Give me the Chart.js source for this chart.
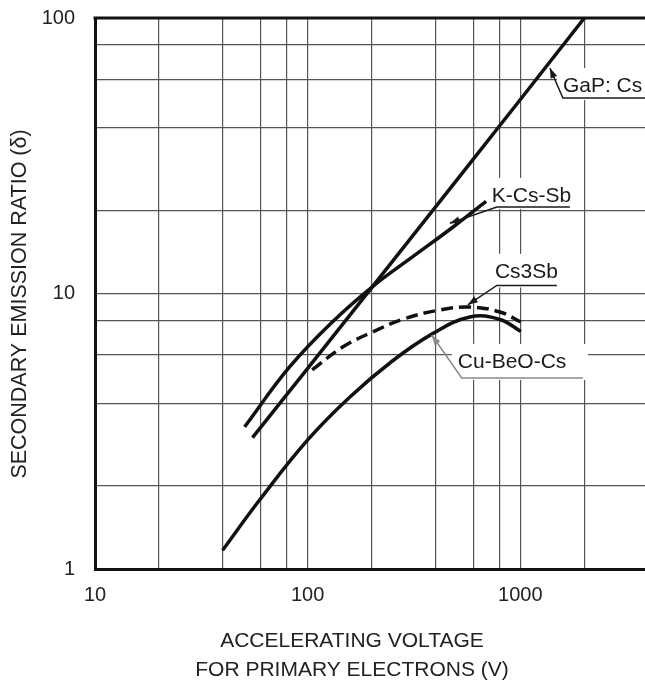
<!DOCTYPE html>
<html>
<head>
<meta charset="utf-8">
<script src="https://cdn.jsdelivr.net/npm/chart.js@4.4.1/dist/chart.umd.min.js"></script>
<style>
  html, body { margin: 0; padding: 0; background: #fff; }
  #wrap { width: 645px; height: 680px; overflow: hidden; }
</style>
</head>
<body>
<div id="wrap"><canvas id="emission" width="645" height="680"></canvas></div>
<script>
// accelerating voltage (V) and secondary emission ratio
const gapCsVolts = [55, 100, 200, 500, 1000, 2000];
const gapCsRatio = [3.0, 5.35, 10.5, 25.7, 50.6, 100];

const kCsSbVolts = [50.5, 82, 131, 202, 312, 481, 690];
const kCsSbRatio = [3.28, 5.4, 7.9, 10.6, 13.6, 17.4, 21.6];

const cs3SbVolts = [105, 146, 202, 285, 418, 579, 801, 1006];
const cs3SbRatio = [5.28, 6.39, 7.25, 8.1, 8.71, 8.93, 8.57, 7.88];

const cuBeoCsVolts = [39.8, 59.4, 100, 158, 251, 387, 579, 801, 1006];
const cuBeoCsRatio = [1.17, 1.78, 2.94, 4.21, 5.7, 7.15, 8.22, 8.05, 7.28];

// grid lines and the labelled decades
const voltGrid = [10, 20, 40, 60, 80, 100, 200, 400, 600, 800, 1000, 2000];
const voltLabels = [10, 100, 1000];
const ratioGrid = [1, 2, 4, 6, 8, 10, 20, 40, 60, 80, 100];
const ratioLabels = [1, 10, 100];

const toPoints = (xs, ys) => xs.map((v, i) => ({ x: v, y: ys[i] }));

// callouts: text left/baseline, underline (start, end, level), arrow tip -- all in data units
const callouts = [
  { text: 'GaP: Cs',   textAt: [1585, 53.9], from: 1585, to: 3855, level: 51.2, tip: [1377, 65.8], color: '#1a1a1a' },
  { text: 'K-Cs-Sb',   textAt: [734, 21.5],  from: 775,  to: 1710, level: 20.6, tip: [466, 18.0],  color: '#1a1a1a' },
  { text: 'Cs3Sb',     textAt: [759, 11.4],  from: 775,  to: 1485, level: 10.7, tip: [566, 9.1],   color: '#1a1a1a' },
  { text: 'Cu-BeO-Cs', textAt: [508, 5.37],  from: 530,  to: 1969, level: 4.94, tip: [383, 7.07],  color: '#8a8a8a' }
];

const FONT = '"Liberation Sans", Arial, Helvetica, sans-serif';
const labelFont = '21px ' + FONT;

const overlay = {
  id: 'overlay',
  beforeDatasetsDraw(chart) {
    // white boxes behind the callout texts hide the grid there
    const { ctx, scales: { x, y } } = chart;
    ctx.save();
    ctx.font = labelFont;
    ctx.fillStyle = '#fff';
    callouts.forEach(c => {
      const left = x.getPixelForValue(c.textAt[0]);
      const base = y.getPixelForValue(c.textAt[1]);
      const lineY = y.getPixelForValue(c.level);
      const right = Math.max(left + ctx.measureText(c.text).width, x.getPixelForValue(c.to));
      ctx.fillRect(left - 6, base - 24, right - left + 11, lineY - base + 26);
    });
    ctx.restore();
  },
  afterDatasetsDraw(chart) {
    const { ctx, chartArea, scales: { x, y } } = chart;
    ctx.save();
    ctx.font = labelFont;
    ctx.textBaseline = 'alphabetic';
    ctx.textAlign = 'left';
    callouts.forEach(c => {
      const x0 = x.getPixelForValue(c.from);
      const x1 = x.getPixelForValue(c.to);
      const ly = y.getPixelForValue(c.level);
      const tx = x.getPixelForValue(c.tip[0]);
      const ty = y.getPixelForValue(c.tip[1]);
      ctx.fillStyle = '#1a1a1a';
      ctx.fillText(c.text, x.getPixelForValue(c.textAt[0]), y.getPixelForValue(c.textAt[1]));
      ctx.strokeStyle = c.color;
      ctx.fillStyle = c.color;
      ctx.lineWidth = 1.5;
      ctx.beginPath();
      ctx.moveTo(x1, ly);
      ctx.lineTo(x0, ly);
      ctx.lineTo(tx, ty);
      ctx.stroke();
      // arrow head
      const ang = Math.atan2(ty - ly, tx - x0);
      const len = 10, half = 3.5;
      const bx = tx - Math.cos(ang) * len, by = ty - Math.sin(ang) * len;
      ctx.beginPath();
      ctx.moveTo(tx, ty);
      ctx.lineTo(bx + Math.sin(ang) * half, by - Math.cos(ang) * half);
      ctx.lineTo(bx - Math.sin(ang) * half, by + Math.cos(ang) * half);
      ctx.closePath();
      ctx.fill();
    });
    // top edge of the frame
    ctx.strokeStyle = '#111';
    ctx.lineWidth = 3;
    ctx.beginPath();
    ctx.moveTo(chartArea.left - 1.5, chartArea.top);
    ctx.lineTo(chartArea.right, chartArea.top);
    ctx.stroke();
    ctx.restore();
  },
  afterDraw(chart) {
    const { ctx } = chart;
    ctx.save();
    ctx.fillStyle = '#222';
    ctx.textAlign = 'center';
    ctx.textBaseline = 'alphabetic';
    ctx.font = '21.5px ' + FONT;
    ctx.translate(26, 304);
    ctx.rotate(-Math.PI / 2);
    ctx.fillText('SECONDARY EMISSION RATIO (\u03B4)', 0, 0);
    ctx.restore();

    ctx.save();
    ctx.fillStyle = '#222';
    ctx.textAlign = 'center';
    ctx.textBaseline = 'alphabetic';
    ctx.font = '21px ' + FONT;
    ctx.fillText('ACCELERATING VOLTAGE', 352, 647);
    ctx.fillText('FOR PRIMARY ELECTRONS (V)', 352, 676);
    ctx.restore();
  }
};

const curve = (label, pts, extra) => Object.assign({
  label: label,
  data: pts,
  borderColor: '#111',
  borderWidth: 3.5,
  pointRadius: 0,
  fill: false,
  tension: 0.4
}, extra);

const config = {
  type: 'line',
  data: {
    datasets: [
      curve('GaP: Cs', toPoints(gapCsVolts, gapCsRatio), { tension: 0 }),
      curve('K-Cs-Sb', toPoints(kCsSbVolts, kCsSbRatio)),
      curve('Cs3Sb', toPoints(cs3SbVolts, cs3SbRatio), { borderDash: [12, 6] }),
      curve('Cu-BeO-Cs', toPoints(cuBeoCsVolts, cuBeoCsRatio))
    ]
  },
  options: {
    responsive: false,
    animation: false,
    devicePixelRatio: 1,
    layout: { padding: { top: 18, right: 0, left: 0, bottom: 0 } },
    plugins: { legend: { display: false }, tooltip: { enabled: false } },
    scales: {
      x: {
        type: 'logarithmic',
        min: 10,
        max: 3855,
        afterBuildTicks: s => { s.ticks = voltGrid.map(v => ({ value: v })); },
        afterFit: s => { s.height = 111; s.paddingLeft = 0; s.paddingRight = 0; },
        grid: { color: '#555', lineWidth: 1.2, drawTicks: false },
        border: { display: true, color: '#111', width: 3 },
        ticks: {
          autoSkip: false,
          maxRotation: 0,
          padding: 14,
          color: '#222',
          font: { family: FONT, size: 20 },
          callback: v => voltLabels.includes(v) ? String(v) : ''
        }
      },
      y: {
        type: 'logarithmic',
        min: 1,
        max: 100,
        afterBuildTicks: s => { s.ticks = ratioGrid.map(v => ({ value: v })); },
        afterFit: s => { s.width = 95; s.paddingTop = 0; s.paddingBottom = 0; },
        grid: { color: '#555', lineWidth: 1.2, drawTicks: false },
        border: { display: true, color: '#111', width: 3 },
        ticks: {
          autoSkip: false,
          padding: 20,
          color: '#222',
          font: { family: FONT, size: 20 },
          callback: v => ratioLabels.includes(v) ? String(v) : ''
        }
      }
    }
  },
  plugins: [overlay]
};

const emissionCanvas = document.getElementById('emission').getContext('2d');
let emissionChart = new Chart(emissionCanvas, config);
</script>
</body>
</html>
